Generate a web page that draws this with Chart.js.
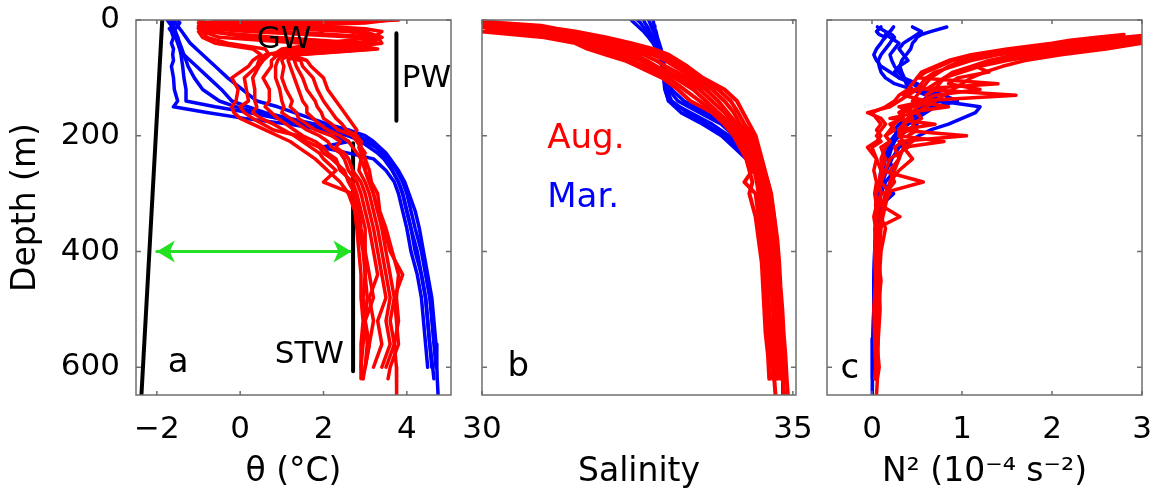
<!DOCTYPE html>
<html lang="en">
<head>
<meta charset="UTF-8">
<title>Temperature, salinity and N2 profiles</title>
<script src="https://cdn.jsdelivr.net/npm/chart.js@4.4.1/dist/chart.umd.min.js"></script>
<style>
  body { margin: 0; background: #fff; }
  #fig { position: relative; width: 1163px; height: 504px; }
  #fig canvas { position: absolute; top: 0; }
</style>
</head>
<body>
<div id="fig">
  <canvas id="panelA" width="460" height="504" style="left:0"></canvas>
  <canvas id="panelB" width="390" height="504" style="left:440px"></canvas>
  <canvas id="panelC" width="363" height="504" style="left:800px"></canvas>
</div>
<script>
// ---- axes ----
const depthMax = 648;
const depthTicks = [0, 200, 400, 600];
const thetaTicks = [-2, 0, 2, 4];
const salinityTicks = [30, 35];
const n2Ticks = [0, 1, 2, 3];

// ---- panel a: potential temperature (degC) ----
const depthA = [0,5,10,15,20,30,40,50,60,70,80,100,120,140,150,160,170,180,190,200,210,220,230,240,260,280,300,330,360,400,440,480,520,560,600,620,648];
const thetaAug = [
  [3.8,2.0,-0.5,-0.9,-1.0,-0.9,-0.6,0.3,0.5, 0.3,0.2,-0.2,-0.05,-0.1,-0.2,-0.15,0.0,0.3,0.6, 0.9,1.2,1.4,1.6,1.8,2.1,2.4,2.6,2.75,2.8,2.85,2.9,2.9,2.95,2.9,2.9,2.95,null],
  [3.6,3.0,1.0,-0.6,-0.9,-0.8,-0.3,0.6,0.7, 0.55,0.45,0.3,0.35,0.35,0.4,0.3,0.5,0.8,1.05, 1.3,1.5,1.7,1.9,2.0,2.3,2.0,2.7,2.8,2.85,2.95,3.0,3.05,3.0,3.1,3.0,null,null],
  [-0.9,-1.0,-0.9,-0.7,0.2,2.8,3.3,1.8,0.9, 0.75,0.75,0.55,0.7,0.7,0.6,0.75,0.9,1.1,1.3, 1.5,1.8,2.0,2.1,2.3,2.4,2.7,2.8,2.9,3.0,3.0,3.1,3.2,3.0,3.05,3.0,null,null],
  [-1.0,-0.8,0.5,2.0,3.0,3.4,3.1,1.5,1.0, 0.9,0.85,0.85,0.95,1.0,1.05,1.0,1.2,1.4,1.6, 1.9,2.1,2.2,2.4,2.5,2.6,2.8,2.9,3.0,3.1,3.2,3.3,3.1,3.2,3.1,3.0,2.95,null],
  [0.5,-0.6,-1.0,-1.0,-0.8,0.8,3.0,2.5,1.1, 1.0,1.05,1.0,1.1,1.25,1.2,1.35,1.4,1.6,1.8, 2.2,2.4,2.3,2.5,2.6,2.7,2.9,3.0,3.1,3.2,3.3,3.4,3.5,3.3,3.4,3.2,null,null],
  [2.5,0.8,-0.7,-0.9,-0.9,-0.5,1.5,3.2,1.3, 1.15,1.2,1.3,1.4,1.5,1.6,1.6,1.75,1.9,2.1, 2.4,2.6,2.7,2.8,2.9,2.85,3.0,3.1,3.2,3.3,3.4,3.5,3.6,3.5,3.6,3.4,null,null],
  [-0.5,0.0,1.8,3.0,3.4,3.2,2.0,1.0,0.8, 1.45,1.5,1.75,1.85,2.0,2.1,2.2,2.3,2.45,2.55, 2.8,2.9,2.9,2.95,3.0,3.0,3.1,3.2,3.3,3.4,3.5,3.6,3.7,3.6,3.7,3.5,null,null],
  [1.5,-0.2,-0.9,-0.8,1.0,3.3,3.4,2.2,1.2, 1.6,1.7,2.0,2.1,2.3,2.4,2.5,2.6,2.7,2.8, 2.75,2.9,2.85,2.9,3.0,3.1,3.15,3.3,3.35,3.5,3.65,3.8,3.75,3.8,3.7,3.75,3.76,3.75],
  [3.0,1.0,-0.8,-1.0,-0.7,0.2,2.5,3.3,1.4, 1.3,1.35,1.5,1.6,1.8,1.85,1.95,2.0,2.2,2.35, 2.7,2.8,2.9,3.0,2.9,3.0,3.1,3.2,3.3,3.45,3.6,3.9,3.7,3.75,3.8,3.6,3.55,null],
  [-0.2,-0.9,-0.6,1.2,2.6,3.4,2.8,1.4,0.6, 0.45,0.4,0.1,0.15,0.2,0.0,0.1,0.3,0.55,0.8, 1.4,1.6,1.9,2.0,2.2,2.5,2.6,2.75,2.85,2.9,3.0,3.0,2.95,3.0,2.95,2.9,2.9,null]
];
const thetaMar = [
  [-1.7,-1.65,-1.6,-1.7,-1.65,-1.6,-1.65,-1.6,-1.62,-1.6,-1.65,-1.6,-1.58,-1.5,-1.6,-0.8,0.1,1.2,2.0,2.6,3.0,3.25,3.4,3.5,3.65,3.8,3.9,4.0,4.1,4.25,4.35,4.45,4.5,4.55,4.6,null,null],
  [-1.6,-1.55,-1.5,-1.45,-1.4,-1.3,-1.2,-1.05,-0.9,-0.75,-0.6,-0.3,0.05,0.4,0.9,1.3,1.7,2.1,2.6,3.0,3.2,3.35,3.5,3.6,3.8,3.95,4.05,4.2,4.3,4.4,4.5,4.6,4.65,4.7,4.72,4.73,4.75],
  [-1.75,-1.7,-1.65,-1.62,-1.6,-1.5,-1.45,-1.4,-1.35,-1.3,-1.25,-1.1,-0.9,-0.5,-0.1,0.4,0.9,1.5,1.9,2.2,2.6,1.95,2.6,3.2,3.5,3.7,3.8,3.9,4.0,4.1,4.25,4.35,4.4,4.45,4.5,null,null],
  [-1.5,-1.45,-1.5,-1.55,-1.6,-1.55,-1.5,-1.45,-1.35,-1.2,-1.05,-0.75,-0.45,-0.2,0.2,0.6,1.2,1.8,2.4,2.8,3.1,3.3,3.45,3.55,3.75,3.9,4.0,4.1,4.2,4.35,4.45,4.55,4.6,4.65,4.7,null,null],
  [-1.65,-1.6,-1.62,-1.58,-1.55,-1.5,-1.48,-1.45,-1.42,-1.4,-1.38,-1.35,-1.3,-1.3,-0.6,0.2,0.9,1.6,2.2,2.6,2.9,3.1,3.3,3.45,3.65,3.8,3.9,4.0,4.1,4.2,4.35,4.45,4.5,4.55,4.62,4.65,null]
];
// freezing-point line, water-mass bars and the green arrow
const freezeTheta = [-1.87, -2.37], freezeDepth = [0, 648];
const gwTheta = [1.95, 1.95], gwDepth = [0, 22];
const pwTheta = [3.75, 3.75], pwDepth = [23, 174];
const stwTheta = [2.71, 2.71], stwDepth = [213, 607];
const arrowTheta = [-2.0, 2.67], arrowDepth = [400, 400];

// ---- panel b: salinity ----
const depthB = [0,5,10,15,20,30,40,50,60,70,80,100,120,140,160,180,200,220,240,260,280,300,340,380,420,460,500,540,580,620,648];
const salinityAug = [
  [29.3,29.5,29.8,29.9,30.0,31.0,31.5,31.7,32.0,32.3,32.5,32.9,33.15,33.35,33.7,33.9,34.05,34.15,34.25,34.3,34.35,34.3,34.4,34.45,34.5,34.52,34.54,34.56,34.6,34.62,null],
  [29.4,29.6,29.95,30.1,30.25,31.15,31.6,31.85,32.15,32.4,32.6,33.0,33.25,33.5,33.75,33.95,34.1,34.2,34.3,34.35,34.22,34.4,34.45,34.5,34.55,34.56,34.58,34.6,34.65,34.68,null],
  [29.5,29.7,30.1,30.3,30.5,31.3,31.75,32.0,32.3,32.55,32.7,33.1,33.4,33.6,33.8,34.0,34.15,34.25,34.33,34.38,34.42,34.45,34.5,34.55,34.58,34.6,34.62,34.65,34.68,34.7,34.72],
  [29.55,29.8,30.25,30.5,30.7,31.45,31.9,32.15,32.45,32.65,32.8,33.2,33.5,33.7,33.9,34.05,34.2,34.3,34.36,34.42,34.45,34.5,34.55,34.6,34.62,34.65,34.68,34.7,34.72,34.75,null],
  [29.65,29.95,30.4,30.7,30.9,31.6,32.0,32.3,32.6,32.8,32.95,33.3,33.6,33.8,33.95,34.1,34.25,34.33,34.4,34.45,34.48,34.53,34.58,34.62,34.65,34.68,34.7,34.74,34.76,34.8,null],
  [29.75,30.05,30.6,30.85,31.1,31.75,32.15,32.45,32.75,32.95,33.1,33.4,33.7,33.9,34.05,34.15,34.3,34.38,34.43,34.48,34.52,34.56,34.62,34.66,34.7,34.72,34.75,34.78,34.8,34.84,34.86],
  [29.85,30.2,30.8,31.05,31.3,31.9,32.3,32.6,32.9,33.05,33.2,33.5,33.8,34.0,34.12,34.22,34.35,34.42,34.47,34.52,34.56,34.6,34.66,34.7,34.74,34.76,34.8,34.82,34.85,34.88,null],
  [29.9,30.3,30.95,31.2,31.5,32.0,32.4,32.75,33.0,33.15,33.3,33.55,33.9,34.1,34.2,34.3,34.4,34.45,34.5,34.55,34.6,34.65,34.7,34.75,34.78,34.8,34.83,34.85,34.88,34.9,34.92]
];
const salinityMar = [
  [32.4,32.45,32.5,32.55,32.6,32.68,32.75,32.8,32.85,32.88,32.9,32.93,32.95,33.0,33.35,33.7,33.97,34.15,34.35,34.5,34.57,34.62,34.68,34.72,34.75,34.77,34.79,34.81,34.83,34.84,34.85],
  [32.6,32.62,32.65,32.68,32.7,32.75,32.8,32.83,32.86,32.88,32.9,32.95,33.0,33.15,33.5,33.85,34.05,34.22,34.38,34.5,34.58,34.63,34.69,34.73,34.76,34.78,34.8,34.82,34.84,34.85,null],
  [32.75,32.76,32.77,32.78,32.8,32.82,32.85,32.88,32.9,32.92,32.93,32.94,32.97,33.05,33.3,33.6,33.9,34.1,34.3,34.45,34.55,34.62,34.67,34.72,34.75,34.78,34.8,34.82,34.83,34.85,null],
  [32.5,32.55,32.58,32.62,32.66,32.72,32.78,32.82,32.86,32.9,32.92,32.96,33.05,33.25,33.6,33.9,34.1,34.25,34.4,34.52,34.6,34.64,34.7,34.74,34.77,34.79,34.81,34.83,34.85,34.86,null],
  [32.68,32.7,32.72,32.74,32.76,32.8,32.83,32.86,32.88,32.9,32.91,32.92,32.94,33.0,33.2,33.55,33.85,34.05,34.25,34.42,34.52,34.6,34.66,34.71,34.74,34.76,34.78,34.8,34.82,34.84,34.84]
];

// ---- panel c: N^2 (1e-4 s^-2) ----
const depthC = [12,20,25,30,35,40,50,60,70,80,90,100,110,120,130,140,150,160,170,180,190,200,210,220,240,260,280,300,320,340,360,400,450,500,550,600,620,648];
const n2Aug = [
  [null,null,3.4,3.2,2.9,2.6,1.9,1.4,1.1,0.9,0.7,0.6,0.55,0.5,0.4,0.3,0.2,-0.05,0.1,0.15,0.1,0.05,0.1,0.0,0.05,0.1,0.08,0.05,0.04,0.06,0.03,0.05,0.06,0.04,0.05,0.06,0.05,null],
  [null,null,3.5,3.4,3.1,2.9,2.4,1.9,1.5,1.2,1.0,0.8,0.7,0.6,1.6,0.5,0.4,0.3,0.35,0.2,0.25,0.15,0.2,0.1,0.15,0.1,0.57,0.1,0.08,0.05,0.06,0.04,0.08,0.05,0.07,0.04,null,null],
  [null,null,3.3,3.0,2.6,2.3,1.7,1.2,0.9,0.75,0.6,0.5,1.4,0.45,0.35,0.6,0.3,0.5,0.2,0.7,0.3,1.05,0.3,0.4,0.2,0.15,0.1,0.2,0.1,0.31,0.05,0.08,0.05,0.06,0.03,0.05,0.04,null],
  [null,null,3.1,2.8,2.4,2.1,1.6,1.3,1.0,0.85,0.75,0.65,0.6,0.55,0.5,0.45,0.85,0.4,0.45,0.35,0.4,0.3,0.35,0.25,0.3,0.2,0.25,0.15,0.12,0.1,0.08,0.06,0.1,0.07,0.05,0.08,0.06,0.05],
  [null,null,3.5,3.5,3.3,3.0,2.6,2.1,1.7,1.45,1.25,1.1,1.0,0.9,0.8,0.7,0.6,0.5,0.55,0.45,0.5,0.4,0.45,0.35,0.3,0.25,0.2,0.18,0.15,0.12,0.1,0.08,0.07,0.06,0.06,0.05,0.05,null],
  [null,null,2.8,2.5,2.2,2.0,1.5,1.1,0.85,0.7,0.55,0.5,0.45,0.4,0.3,0.25,0.15,0.0,0.05,0.1,0.05,0.1,0.05,-0.05,0.05,0.02,0.05,0.03,0.05,0.02,0.04,0.03,0.04,0.02,0.03,0.04,0.03,null],
  [null,null,3.2,3.1,2.8,2.5,2.0,1.6,1.3,1.1,0.9,0.8,0.75,0.7,0.6,0.65,0.5,0.45,0.4,0.35,0.3,0.3,0.8,0.35,0.45,0.3,0.2,0.15,0.12,0.1,0.15,0.1,0.08,0.09,0.07,0.06,0.05,null],
  [null,null,3.4,3.3,3.0,2.8,2.2,1.7,1.35,1.15,1.3,0.95,0.85,1.2,0.7,0.55,0.45,0.35,0.3,0.25,0.2,0.15,0.2,0.15,0.1,0.12,0.08,0.1,0.06,0.05,0.04,0.06,0.05,0.04,0.06,0.05,null,null]
];
const n2Mar = [
  [0.83,0.65,0.55,0.5,0.48,0.45,0.43,0.38,0.33,0.31,0.33,0.36,0.38,0.45,0.6,0.75,1.2,1.15,1.0,0.85,0.65,0.52,0.42,0.3,0.22,0.16,0.12,0.09,0.08,0.06,0.05,0.03,0.02,0.02,0.01,0.01,0.0,0.0],
  [0.06,0.15,0.22,0.25,0.22,0.2,0.15,0.1,0.07,0.08,0.1,0.15,0.25,0.45,0.7,0.75,0.6,0.5,0.45,0.35,0.3,0.25,0.2,0.2,0.15,0.1,0.12,0.08,0.07,0.05,0.05,0.04,0.03,0.02,0.02,0.01,0.01,null],
  [0.24,0.2,0.15,0.2,0.25,0.3,0.25,0.2,0.22,0.25,0.3,0.35,0.5,0.6,0.65,0.55,0.7,0.6,0.5,0.5,0.4,0.3,0.25,0.22,0.18,0.25,0.15,0.1,0.08,0.07,0.05,0.04,0.03,0.03,0.02,0.02,null,null],
  [0.45,0.55,0.5,0.45,0.4,0.35,0.3,0.35,0.4,0.3,0.25,0.3,0.45,0.55,0.65,0.7,0.55,0.45,0.4,0.3,0.25,0.3,0.22,0.2,0.15,0.12,0.1,0.24,0.1,0.07,0.06,0.04,0.03,0.02,0.02,0.01,0.01,null],
  [0.1,0.05,0.08,0.15,0.12,0.1,0.05,0.02,0.05,0.1,0.2,0.3,0.5,0.6,0.8,0.95,0.7,0.55,0.5,0.4,0.3,0.25,0.2,0.18,0.14,0.1,0.08,0.07,0.06,0.05,0.04,0.03,0.02,0.02,0.01,0.01,0.0,null]
];

// ---- drawing ----
const FONT = "'DejaVu Sans', sans-serif";
Chart.defaults.font.family = FONT;
Chart.defaults.color = '#000';

const RED = '#ff0000', BLUE = '#0000ff', GREEN = '#22e022';

function line(xs, ys, color, width) {
  return {
    data: ys.map((d, i) => ({x: xs[i], y: d})).filter(p => p.x !== null),
    borderColor: color, borderWidth: width, showLine: true, pointRadius: 0,
    borderJoinStyle: 'round', borderCapStyle: 'round', clip: 0
  };
}
const profiles = (grid, list, color, width) => list.map(v => line(v, grid, color, width));
const minus = v => v < 0 ? '\u2212' + Math.abs(v) : String(v);

// box + inward tick marks on all four sides
const frame = {
  id: 'frame',
  afterDraw(chart) {
    const {ctx, chartArea: a, scales: {x, y}} = chart;
    ctx.save();
    ctx.strokeStyle = '#6e6e6e';
    ctx.lineWidth = 1.5;
    ctx.strokeRect(a.left, a.top, a.right - a.left, a.bottom - a.top);
    ctx.beginPath();
    x.ticks.forEach(t => {
      const p = x.getPixelForValue(t.value);
      ctx.moveTo(p, a.bottom); ctx.lineTo(p, a.bottom - 4);
      ctx.moveTo(p, a.top); ctx.lineTo(p, a.top + 4);
    });
    y.ticks.forEach(t => {
      const p = y.getPixelForValue(t.value);
      ctx.moveTo(a.left, p); ctx.lineTo(a.left + 5, p);
      ctx.moveTo(a.right, p); ctx.lineTo(a.right - 5, p);
    });
    ctx.stroke();
    ctx.restore();
  }
};

// text labels placed in data coordinates
function labels(list) {
  return {
    id: 'labels',
    afterDatasetsDraw(chart) {
      const {ctx, scales: {x, y}} = chart;
      ctx.save();
      ctx.textBaseline = 'alphabetic';
      ctx.textAlign = 'left';
      list.forEach(l => {
        ctx.font = l.size + 'px ' + FONT;
        ctx.fillStyle = l.color || '#000';
        ctx.fillText(l.text, x.getPixelForValue(l.x), y.getPixelForValue(l.y));
      });
      ctx.restore();
    }
  };
}

const arrowHeads = {
  id: 'arrowHeads',
  afterDatasetsDraw(chart) {
    const {ctx, scales: {x, y}} = chart;
    const py = y.getPixelForValue(arrowDepth[0]);
    ctx.save();
    ctx.fillStyle = GREEN;
    [[arrowTheta[0], 1], [arrowTheta[1], -1]].forEach(([v, dir]) => {
      const px = x.getPixelForValue(v);
      ctx.beginPath();
      ctx.moveTo(px, py);
      ctx.lineTo(px + dir * 18, py - 11);
      ctx.lineTo(px + dir * 13, py);
      ctx.lineTo(px + dir * 18, py + 11);
      ctx.closePath();
      ctx.fill();
    });
    ctx.restore();
  }
};

// fixed axis sizes so the plot boxes land where they are in the figure
function noPad(s) { s.paddingTop = s.paddingBottom = s.paddingLeft = s.paddingRight = 0; }

function options(cfg) {
  return {
    responsive: false, animation: false, events: [],
    layout: {padding: {top: 20, right: cfg.right, left: 0, bottom: 0}},
    plugins: {legend: {display: false}, tooltip: {enabled: false}},
    scales: {
      x: {
        type: 'linear', min: cfg.xMin, max: cfg.xMax,
        grid: {display: false, drawTicks: false}, border: {display: false},
        afterBuildTicks: s => { s.ticks = cfg.xTicks.map(v => ({value: v})); },
        afterFit: s => { s.height = 109; noPad(s); },
        ticks: {font: {size: 31}, padding: 16, color: '#000', autoSkip: false, maxRotation: 0, callback: minus},
        title: {display: true, text: cfg.xTitle, font: {size: 33}, color: '#000', padding: {top: 0, bottom: 12}}
      },
      y: {
        type: 'linear', reverse: true, min: 0, max: depthMax,
        grid: {display: false, drawTicks: false}, border: {display: false},
        afterBuildTicks: s => { s.ticks = depthTicks.map(v => ({value: v})); },
        afterFit: s => { s.width = cfg.left; noPad(s); },
        ticks: {display: cfg.yLabels, font: {size: 31}, padding: 16, color: '#000'},
        title: {display: cfg.yLabels, text: 'Depth (m)', font: {size: 33}, color: '#000', padding: {top: 7, bottom: 0}}
      }
    }
  };
}

new Chart(document.getElementById('panelA'), {
  type: 'scatter',
  data: {datasets: [
    ...profiles(depthA, thetaAug, RED, 3.5),
    ...profiles(depthA, thetaMar, BLUE, 3.5),
    line(freezeTheta, freezeDepth, '#000', 4),
    line(gwTheta, gwDepth, '#000', 4),
    line(pwTheta, pwDepth, '#000', 4),
    line(stwTheta, stwDepth, '#000', 4),
    line(arrowTheta, arrowDepth, GREEN, 3)
  ]},
  options: options({xMin: -2.5, xMax: 5.06, xTicks: thetaTicks, xTitle: '\u03b8 (\u00b0C)', left: 136, right: 9, yLabels: true}),
  plugins: [frame, arrowHeads, labels([
    {text: 'GW', x: 0.4, y: 48, size: 31},
    {text: 'PW', x: 3.88, y: 116, size: 31},
    {text: 'STW', x: 0.83, y: 592, size: 31},
    {text: 'a', x: -1.74, y: 608, size: 34}
  ])]
});

new Chart(document.getElementById('panelB'), {
  type: 'scatter',
  data: {datasets: [
    ...profiles(depthB, salinityAug, RED, 4),
    ...profiles(depthB, salinityMar, BLUE, 3.5)
  ]},
  options: options({xMin: 30, xMax: 35.05, xTicks: salinityTicks, xTitle: 'Salinity', left: 42, right: 34, yLabels: false}),
  plugins: [frame, labels([
    {text: 'Aug.', x: 31.05, y: 221, size: 34, color: RED},
    {text: 'Mar.', x: 31.05, y: 323, size: 34, color: BLUE},
    {text: 'b', x: 30.41, y: 616, size: 34}
  ])]
});

new Chart(document.getElementById('panelC'), {
  type: 'scatter',
  data: {datasets: [
    ...profiles(depthC, n2Aug, RED, 3.5),
    ...profiles(depthC, n2Mar, BLUE, 3.5)
  ]},
  options: options({xMin: -0.5, xMax: 3, xTicks: n2Ticks, xTitle: 'N\u00b2 (10\u207b\u2074 s\u207b\u00b2)', left: 27, right: 21, yLabels: false}),
  plugins: [frame, labels([
    {text: 'c', x: -0.35, y: 618, size: 34}
  ])]
});
</script>
</body>
</html>
